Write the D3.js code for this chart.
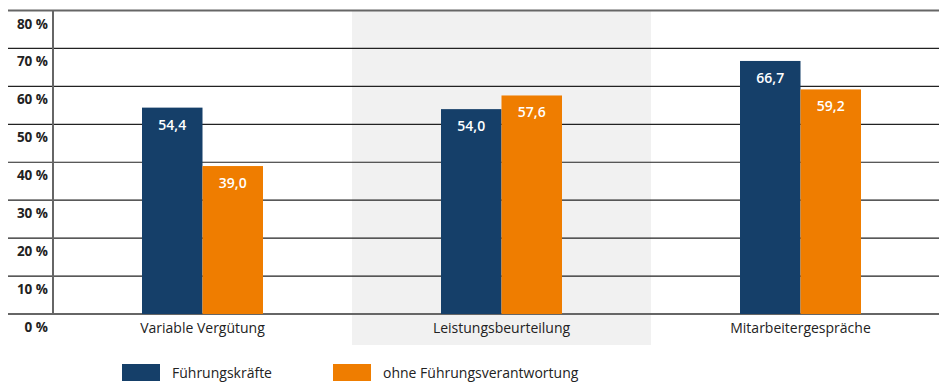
<!DOCTYPE html>
<html>
<head>
<meta charset="utf-8">
<script src="https://cdn.jsdelivr.net/npm/d3@7"></script>
<style>
  body { margin: 0; background: #fff; }
  svg { display: block; font-family: "Open Sans", sans-serif; }
</style>
</head>
<body>
<svg id="chart" width="939" height="382"></svg>
<script>
var categories = ["Variable Vergütung", "Leistungsbeurteilung", "Mitarbeitergespräche"];
var seriesNames = ["Führungskräfte", "ohne Führungsverantwortung"];
var fuehrung = [54.4, 54.0, 66.7];
var ohne = [39.0, 57.6, 59.2];
var yTicks = [0, 10, 20, 30, 40, 50, 60, 70, 80];
var colors = ["#153f69", "#ef7d00"];

var w = 939, h = 382;
var svg = d3.select("#chart");

var x = d3.scaleBand().domain(categories).range([53, 950]).paddingInner(0).paddingOuter(0);
var y = d3.scaleLinear().domain([0, 80]).range([314, 10.5]);
var barW = 60.5;

// grey band behind the middle category
svg.append("rect")
   .attr("x", x(categories[1])).attr("y", y(80))
   .attr("width", x.bandwidth()).attr("height", 345 - y(80))
   .attr("fill", "#f1f1f1");

// gridlines
svg.selectAll("line.grid")
   .data(yTicks)
   .enter().append("line")
   .attr("class", "grid")
   .attr("x1", 8).attr("x2", w)
   .attr("y1", d => y(d)).attr("y2", d => y(d))
   .attr("stroke", d => (d == 0 || d == 80) ? "#666" : "#222")
   .attr("stroke-width", d => (d == 0 || d == 80) ? 2 : 1.2);

// y tick labels (sit just below each line)
svg.selectAll("text.ytick")
   .data(yTicks)
   .enter().append("text")
   .attr("class", "ytick")
   .attr("x", 48)
   .attr("y", d => y(d) + 18)
   .attr("text-anchor", "end")
   .attr("font-size", 13.5)
   .attr("font-weight", "bold")
   .attr("fill", "#222")
   .text(d => d + " %");

// vertical axis line
svg.append("line")
   .attr("x1", 53).attr("x2", 53)
   .attr("y1", y(80)).attr("y2", y(0))
   .attr("stroke", "#666").attr("stroke-width", 2);

var rows = [];
categories.forEach(function(c, i) {
  rows.push({cat: c, s: 0, v: fuehrung[i]});
  rows.push({cat: c, s: 1, v: ohne[i]});
});

function barX(d) {
  var cx = x(d.cat) + x.bandwidth() / 2;
  return d.s == 0 ? cx - barW : cx;
}

svg.selectAll("rect.bar")
   .data(rows)
   .enter().append("rect")
   .attr("class", "bar")
   .attr("x", barX)
   .attr("y", d => y(d.v))
   .attr("width", barW)
   .attr("height", d => y(0) - y(d.v))
   .attr("fill", d => colors[d.s]);

svg.selectAll("text.val")
   .data(rows)
   .enter().append("text")
   .attr("class", "val")
   .attr("x", d => barX(d) + barW / 2)
   .attr("y", d => y(d.v) + 22)
   .attr("text-anchor", "middle")
   .attr("font-size", 14)
   .attr("font-weight", 600)
   .attr("fill", "#fff")
   .text(d => d.v.toFixed(1).replace(".", ","));

// category labels
svg.selectAll("text.cat")
   .data(categories)
   .enter().append("text")
   .attr("class", "cat")
   .attr("x", d => x(d) + x.bandwidth() / 2)
   .attr("y", 333)
   .attr("text-anchor", "middle")
   .attr("font-size", 14)
   .attr("fill", "#222")
   .text(d => d);

// legend
var legX = [122, 333];
var leg = svg.selectAll("g.leg")
   .data(seriesNames)
   .enter().append("g")
   .attr("class", "leg")
   .attr("transform", (d, i) => "translate(" + legX[i] + ",364)");
leg.append("rect").attr("width", 38).attr("height", 17).attr("fill", (d, i) => colors[i]);
leg.append("text").attr("x", 50).attr("y", 14).attr("font-size", 14).attr("fill", "#222").text(d => d);
</script>
</body>
</html>
